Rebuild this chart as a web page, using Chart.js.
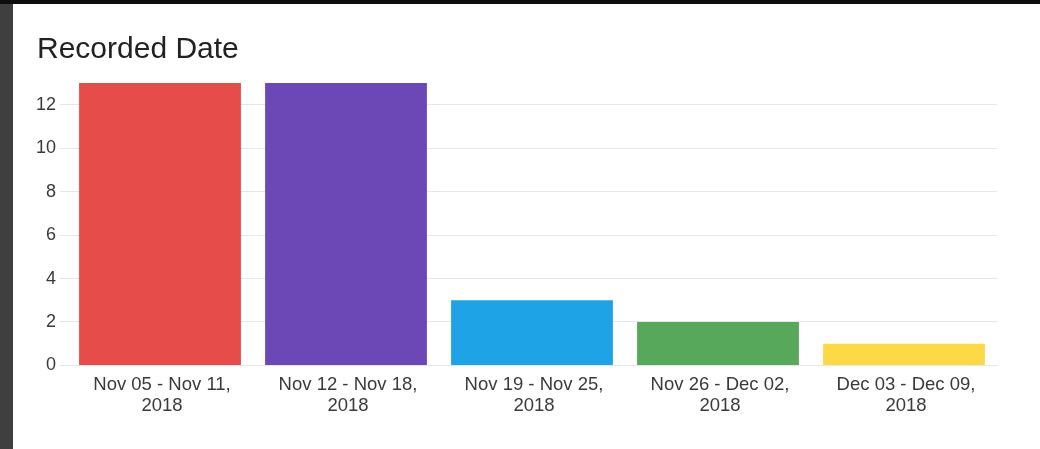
<!DOCTYPE html>
<html>
<head>
<meta charset="utf-8">
<title>Recorded Date</title>
<script src="https://cdn.jsdelivr.net/npm/chart.js@4"></script>
<style>
    html, body {
        margin: 0;
        padding: 0;
        width: 1040px;
        height: 449px;
        overflow: hidden;
        background: #3f3f3f;
    }
    .topbar {
        position: absolute;
        left: 0;
        top: 0;
        width: 1040px;
        height: 4px;
        background: #0d0d0d;
    }
    .card {
        position: absolute;
        left: 13px;
        top: 4px;
        width: 1027px;
        height: 445px;
        background: #ffffff;
    }
</style>
</head>
<body>
<div class="topbar"></div>
<div class="card">
    <canvas id="recordedChart" width="1027" height="445"></canvas>
</div>
<script>
const weekLabels = [
    ['Nov 05 - Nov 11,', '2018'],
    ['Nov 12 - Nov 18,', '2018'],
    ['Nov 19 - Nov 25,', '2018'],
    ['Nov 26 - Dec 02,', '2018'],
    ['Dec 03 - Dec 09,', '2018']
];
const recordCounts = [13, 13, 3, 2, 1];
const barColors = ['#e64c49', '#6c48b6', '#1ea4e6', '#57a85a', '#fdd947'];
const yTicks = [0, 2, 4, 6, 8, 10, 12];

const fontFamily = '"Liberation Sans", Arial, sans-serif';

function createChart() {
    const ctx = document.getElementById('recordedChart').getContext('2d');

    new Chart(ctx, {
        type: 'bar',
        data: {
            labels: weekLabels,
            datasets: [{
                label: 'Recorded Date',
                data: recordCounts,
                backgroundColor: barColors,
                borderWidth: 0,
                categoryPercentage: 1,
                barPercentage: 0.87
            }]
        },
        options: {
            responsive: false,
            animation: false,
            layout: {
                padding: { left: 24, right: 43, top: 0, bottom: 23 }
            },
            plugins: {
                legend: { display: false },
                tooltip: { enabled: false },
                title: {
                    display: true,
                    text: 'Recorded Date',
                    align: 'start',
                    color: '#222222',
                    font: { family: fontFamily, size: 30, weight: 'normal', lineHeight: 1.2 },
                    padding: { top: 28, bottom: 15 }
                }
            },
            scales: {
                x: {
                    grid: { display: false, drawTicks: false },
                    border: { display: false },
                    ticks: {
                        color: '#3a3a3a',
                        padding: 9,
                        labelOffset: 2,
                        maxRotation: 0,
                        autoSkip: false,
                        font: { family: fontFamily, size: 18.5, lineHeight: 1.15 }
                    }
                },
                y: {
                    min: 0,
                    max: 13,
                    afterFit: function (scale) { scale.width = 30; },
                    afterBuildTicks: function (scale) {
                        scale.ticks = yTicks.map(v => ({ value: v }));
                    },
                    grid: {
                        color: '#e6e6e6',
                        lineWidth: 1,
                        tickLength: 7
                    },
                    border: { display: false },
                    ticks: {
                        color: '#3a3a3a',
                        padding: 4,
                        font: { family: fontFamily, size: 18 }
                    }
                }
            }
        }
    });
}

window.onload = createChart;
</script>
</body>
</html>
